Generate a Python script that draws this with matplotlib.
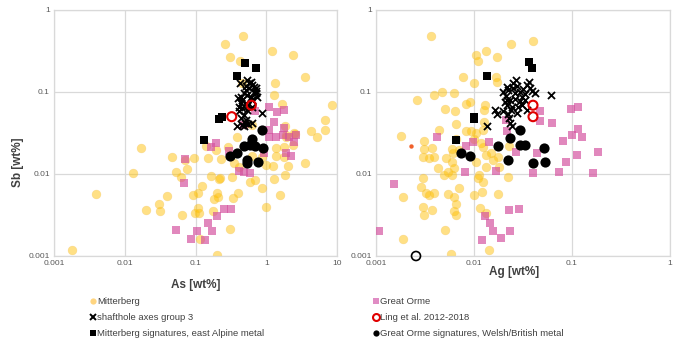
import matplotlib
matplotlib.use("Agg")
import matplotlib.pyplot as plt
from matplotlib.lines import Line2D

plt.rcParams['font.family'] = ['Liberation Sans', 'DejaVu Sans']

# ---------------- Left panel: As vs Sb ----------------
mitt_as = [0.47, 0.26, 0.31, 0.42, 1.19, 2.35, 3.5, 1.35, 1.27, 1.66, 0.45, 8.4, 6.7, 6.8, 4.3,
           5.3, 2.5, 1.83, 1.9, 0.38, 0.63, 0.017, 0.013, 0.0039, 0.0018, 0.047, 0.053, 0.063,
           0.075, 0.072, 0.095, 0.15, 0.14, 0.195, 0.23, 0.35, 0.63, 0.88, 0.98, 1.23, 1.8, 1.37,
           1.37, 1.8, 3.5, 2.0, 1.85, 1.27, 0.69, 0.58, 0.88, 1.56, 0.98, 0.31, 0.2, 0.114, 0.113,
           0.11, 0.092, 0.107, 0.125, 0.166, 0.22, 0.215, 0.2, 0.21, 0.18, 0.174, 0.34, 0.40, 0.41,
           0.33, 0.065, 0.039, 0.030, 0.031, 0.020, 0.098, 2.35, 1.9, 2.56, 0.29, 0.50]
mitt_sb = [0.48, 0.38, 0.27, 0.24, 0.32, 0.28, 0.154, 0.13, 0.092, 0.071, 0.128, 0.069, 0.046,
           0.034, 0.033, 0.028, 0.032, 0.038, 0.028, 0.028, 0.040, 0.021, 0.0104, 0.0057, 0.0012,
           0.0163, 0.0107, 0.0093, 0.0115, 0.015, 0.0155, 0.0155, 0.022, 0.0196, 0.0152, 0.0137,
           0.0166, 0.016, 0.0129, 0.0125, 0.0216, 0.0206, 0.0166, 0.0163, 0.0135, 0.0125, 0.0096,
           0.0088, 0.0084, 0.0081, 0.0068, 0.0056, 0.0040, 0.00215, 0.00103, 0.0016, 0.0033,
           0.0039, 0.0056, 0.0059, 0.0072, 0.0095, 0.009, 0.0088, 0.0059, 0.0052, 0.005, 0.0035,
           0.0051, 0.0059, 0.0123, 0.0093, 0.0032, 0.0054, 0.0043, 0.0035, 0.0036, 0.0033,
           0.0226, 0.030, 0.031, 0.0216, 0.041]

go_as = [1.10, 1.79, 1.41, 1.08, 1.30, 1.79, 1.70, 1.37, 1.08, 2.1, 2.6, 2.48, 1.93, 2.25, 0.93,
         0.69, 0.48, 0.30, 0.193, 0.164, 0.070, 0.068, 0.053, 0.087, 0.104, 0.137, 0.149, 0.17,
         0.204, 0.256, 0.32, 0.41, 0.48, 0.58]
go_sb = [0.066, 0.060, 0.0565, 0.034, 0.0435, 0.036, 0.030, 0.0285, 0.0285, 0.0285, 0.030, 0.0248,
         0.0179, 0.0167, 0.018, 0.059, 0.040, 0.0193, 0.024, 0.0216, 0.0151, 0.0077, 0.0021,
         0.0016, 0.0020, 0.00157, 0.0025, 0.0020, 0.0031, 0.0037, 0.0037, 0.011, 0.0106, 0.0104]

axes_as = [0.42, 0.54, 0.60, 0.635, 0.57, 0.51, 0.71, 0.67, 0.48, 0.54, 0.435, 0.40, 0.60, 0.71,
           0.635, 0.46, 0.51, 0.41, 0.46, 0.54, 0.41, 0.48, 0.435, 0.51, 0.38, 0.45, 0.56, 0.48,
           0.635, 0.88, 0.635, 0.75, 0.62, 0.67, 0.57, 0.51, 0.72, 0.445, 0.54, 0.50]
axes_sb = [0.128, 0.14, 0.134, 0.122, 0.111, 0.106, 0.111, 0.101, 0.096, 0.092, 0.088, 0.084,
           0.088, 0.096, 0.080, 0.080, 0.073, 0.066, 0.063, 0.060, 0.058, 0.052, 0.048, 0.046,
           0.0385, 0.040, 0.041, 0.038, 0.0415, 0.056, 0.065, 0.088, 0.080, 0.114, 0.130, 0.118,
           0.104, 0.073, 0.0675, 0.042]

msig_as = [0.50, 0.71, 0.38, 0.235, 0.215, 0.131]
msig_sb = [0.228, 0.196, 0.157, 0.049, 0.047, 0.026]

ling_as = [0.325, 0.615]
ling_sb = [0.050, 0.069]

gosig_as = [0.88, 0.635, 0.48, 0.58, 0.69, 0.89, 0.39, 0.305, 0.54, 0.53, 0.77]
gosig_sb = [0.034, 0.027, 0.022, 0.0226, 0.022, 0.021, 0.0179, 0.0167, 0.0148, 0.0137, 0.0141]

# ---------------- Right panel: Ag vs Sb ----------------
mitt_ag = [0.0036, 0.024, 0.040, 0.0105, 0.0109, 0.0133, 0.0172, 0.0077, 0.0100, 0.0168, 0.0170,
           0.0026, 0.0039, 0.0047, 0.0062, 0.0082, 0.0092, 0.0051, 0.0064, 0.0131, 0.0127, 0.0065,
           0.0127, 0.0083, 0.0093, 0.0018, 0.0031, 0.0037, 0.0031, 0.0030, 0.0035, 0.0039, 0.0052,
           0.0061, 0.0060, 0.0071, 0.0043, 0.0054, 0.0050, 0.0059, 0.0063, 0.0066, 0.0060, 0.0118,
           0.0123, 0.0133, 0.0105, 0.0133, 0.0113, 0.0109, 0.0123, 0.0149, 0.0155, 0.0174, 0.0181,
           0.0221, 0.0123, 0.0030, 0.0029, 0.0032, 0.0035, 0.0039, 0.0030, 0.0031, 0.0037, 0.0054,
           0.0063, 0.0066, 0.0063, 0.0066, 0.0071, 0.0099, 0.0121, 0.0115, 0.0133, 0.0174, 0.0051,
           0.0019, 0.0019, 0.0058, 0.0143, 0.0044, 0.0106, 0.0100, 0.023]
mitt_sb2 = [0.48, 0.385, 0.42, 0.28, 0.24, 0.32, 0.27, 0.154, 0.13, 0.154, 0.131, 0.080, 0.092,
            0.099, 0.098, 0.071, 0.0755, 0.062, 0.058, 0.069, 0.060, 0.041, 0.0435, 0.033, 0.033,
            0.029, 0.025, 0.021, 0.0202, 0.0163, 0.0155, 0.0163, 0.0155, 0.0179, 0.0141, 0.0196,
            0.0117, 0.0107, 0.0097, 0.0097, 0.0117, 0.027, 0.0202, 0.0237, 0.0216, 0.0171, 0.0141,
            0.0123, 0.0097, 0.0089, 0.0081, 0.0179, 0.0148, 0.0163, 0.0123, 0.0093, 0.034, 0.0089,
            0.0070, 0.0058, 0.0056, 0.0058, 0.0040, 0.0032, 0.0036, 0.0057, 0.0053, 0.0043, 0.0035,
            0.0032, 0.0067, 0.0056, 0.0061, 0.0039, 0.0033, 0.0057, 0.0021, 0.0052, 0.0016,
            0.00105, 0.0012, 0.034, 0.032, 0.0265, 0.022]

go_ag = [0.00108, 0.00154, 0.0042, 0.0083, 0.0097, 0.0143, 0.0080, 0.0168, 0.0215, 0.0268, 0.0131,
         0.0147, 0.0157, 0.0121, 0.0189, 0.0233, 0.0226, 0.0286, 0.114, 0.127, 0.100, 0.080, 0.183,
         0.112, 0.087, 0.0436, 0.0403, 0.0737, 0.162, 0.047, 0.047, 0.062, 0.098, 0.116, 0.021]
go_sb2 = [0.0020, 0.0076, 0.028, 0.022, 0.0243, 0.0243, 0.0105, 0.011, 0.033, 0.0187, 0.0031,
          0.0025, 0.0020, 0.00157, 0.00164, 0.0020, 0.0036, 0.0037, 0.035, 0.028, 0.030, 0.0255,
          0.0187, 0.0171, 0.0141, 0.0179, 0.0104, 0.0105, 0.0102, 0.058, 0.0447, 0.042, 0.0615,
          0.066, 0.046]

axes_ag = [0.0136, 0.0164, 0.0173, 0.0199, 0.021, 0.0215, 0.0252, 0.0268, 0.0277, 0.0345, 0.0361,
           0.0373, 0.0295, 0.0319, 0.0334, 0.0419, 0.0606, 0.0233, 0.0262, 0.0297, 0.0334, 0.0219,
           0.0244, 0.0283, 0.0311, 0.0199, 0.0224, 0.0272, 0.0229, 0.0235, 0.0244, 0.0252, 0.0224,
           0.0306, 0.0388, 0.0262, 0.0215, 0.0237, 0.0345, 0.0207]
axes_sb2 = [0.0385, 0.060, 0.054, 0.101, 0.090, 0.081, 0.128, 0.140, 0.118, 0.122, 0.132, 0.111,
            0.101, 0.110, 0.0946, 0.0963, 0.092, 0.080, 0.083, 0.078, 0.081, 0.069, 0.065, 0.066,
            0.070, 0.058, 0.054, 0.055, 0.048, 0.042, 0.039, 0.111, 0.106, 0.088, 0.104, 0.096,
            0.116, 0.060, 0.060, 0.076]

msig_ag = [0.0136, 0.0364, 0.0388, 0.0100, 0.0100, 0.0065]
msig_sb2 = [0.158, 0.23, 0.198, 0.049, 0.047, 0.026]

ling_ag = [0.040, 0.040]
ling_sb2 = [0.069, 0.050]

gosig_ag = [0.0295, 0.0233, 0.0177, 0.0295, 0.0331, 0.052, 0.0074, 0.0092, 0.0221, 0.0403, 0.0534]
gosig_sb2 = [0.034, 0.0277, 0.022, 0.0226, 0.0226, 0.021, 0.0179, 0.0167, 0.0148, 0.0137, 0.0141]

gosig_open_ag = [0.00256]
gosig_open_sb = [0.001]
extra_ag = [0.0023]
extra_sb = [0.022]

legend_labels_left = ["Mitterberg", "shafthole axes group 3", "Mitterberg signatures, east Alpine metal"]
legend_labels_right = ["Great Orme", "Ling et al. 2012-2018", "Great Orme signatures, Welsh/British metal"]

# ---------------- styles ----------------
C_MITT = '#FFC000'
C_GO = '#D4509E'
GRID = '#D9D9D9'
TXT = '#595959'

fig = plt.figure(figsize=(6.8, 3.39), dpi=100)
axL = fig.add_axes([54/680, 83/339, 283/680, 246/339])
axR = fig.add_axes([376/680, 83/339, 294/680, 246/339])


def draw(ax, mx, my, gx, gy, cx, cy, sx, sy, lx, ly, bx, by):
    ax.scatter(mx, my, s=40, marker='o', color=C_MITT, alpha=0.48, edgecolors='#F2C45C',
               linewidths=0.4, zorder=2)
    ax.scatter(gx, gy, s=28, marker='s', color=C_GO, alpha=0.68, linewidths=0, zorder=3)
    ax.scatter(cx, cy, s=26, marker='x', color='black', linewidths=1.3, zorder=4)
    ax.scatter(sx, sy, s=28, marker='s', color='black', linewidths=0, zorder=5)
    ax.scatter(bx, by, s=54, marker='o', color='black', linewidths=0, zorder=6)
    ax.scatter(lx, ly, s=42, marker='o', facecolors='none', edgecolors='#E00000',
               linewidths=1.5, zorder=7)


draw(axL, mitt_as, mitt_sb, go_as, go_sb, axes_as, axes_sb, msig_as, msig_sb,
     ling_as, ling_sb, gosig_as, gosig_sb)
draw(axR, mitt_ag, mitt_sb2, go_ag, go_sb2, axes_ag, axes_sb2, msig_ag, msig_sb2,
     ling_ag, ling_sb2, gosig_ag, gosig_sb2)
axR.scatter(gosig_open_ag, gosig_open_sb, s=42, marker='o', facecolors='none',
            edgecolors='black', linewidths=1.2, zorder=8, clip_on=False)
axR.scatter(extra_ag, extra_sb, s=10, marker='o', color='#F0602A', linewidths=0, zorder=8)

for ax, xmax in ((axL, 10), (axR, 1)):
    ax.set_xscale('log')
    ax.set_yscale('log')
    ax.set_xlim(0.001, xmax)
    ax.set_ylim(0.001, 1)
    xt = [0.001, 0.01, 0.1, 1, 10][: (5 if xmax == 10 else 4)]
    ax.set_xticks(xt)
    ax.set_xticklabels([('%g' % v) for v in xt])
    ax.set_yticks([0.001, 0.01, 0.1, 1])
    ax.set_yticklabels(['0.001', '0.01', '0.1', '1'])
    ax.minorticks_off()
    ax.tick_params(length=0, labelsize=6, labelcolor=TXT, pad=3)
    ax.grid(True, color=GRID, linewidth=0.9, zorder=0)
    ax.set_axisbelow(True)
    for sp in ax.spines.values():
        sp.set_color(GRID)
        sp.set_linewidth(0.9)

axL.set_ylabel('Sb [wt%]', fontsize=8.5, fontweight='bold', color='#404040')
axL.yaxis.set_label_coords(-0.105, 0.38)
axL.set_xlabel('As [wt%]', fontsize=8.5, fontweight='bold', color='#404040')
axL.xaxis.set_label_coords(0.5, -0.095)
axR.set_xlabel('Ag [wt%]', fontsize=8.5, fontweight='bold', color='#404040')
axR.xaxis.set_label_coords(0.47, -0.04)

hL = [Line2D([], [], ls='none', marker='o', markersize=4.5, color='#FFD580', markeredgewidth=0),
      Line2D([], [], ls='none', marker='x', markersize=4.5, color='black', markeredgewidth=1.4),
      Line2D([], [], ls='none', marker='s', markersize=4, color='black', markeredgewidth=0)]
hR = [Line2D([], [], ls='none', marker='s', markersize=4.5, color='#E08CC4', markeredgewidth=0),
      Line2D([], [], ls='none', marker='o', markersize=5, markerfacecolor='none',
             markeredgecolor='#E00000', markeredgewidth=1.5),
      Line2D([], [], ls='none', marker='o', markersize=4.5, color='black', markeredgewidth=0)]

for handles, labels, x in ((hL, legend_labels_left, 90/680), (hR, legend_labels_right, 373/680)):
    leg = fig.legend(handles, labels, loc='upper left', bbox_to_anchor=(x, 42/339),
                     frameon=False, fontsize=6.8, handlelength=0.6, handletextpad=0.15,
                     labelspacing=0.75, borderpad=0, borderaxespad=0)
    for t in leg.get_texts():
        t.set_color('#404040')

fig.savefig('out.png', dpi=100)
